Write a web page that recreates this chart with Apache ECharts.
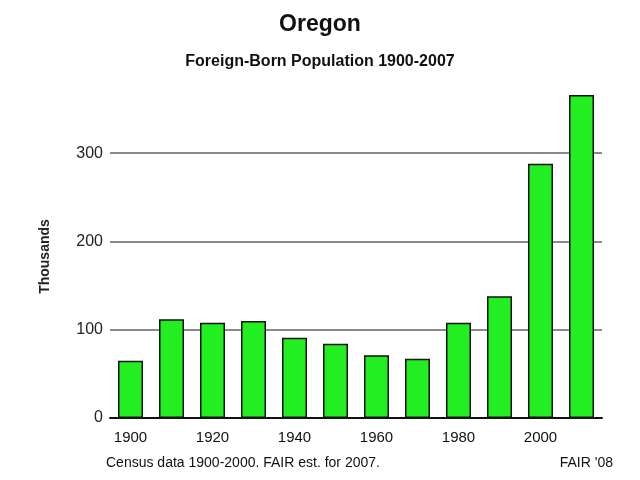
<!DOCTYPE html>
<html>
<head>
<meta charset="utf-8">
<script src="https://cdn.jsdelivr.net/npm/echarts@6/dist/echarts.min.js"></script>
<style>
  html, body { margin: 0; padding: 0; background: #ffffff; }
  #main { width: 640px; height: 480px; }
</style>
</head>
<body>
<div id="main"></div>
<script>
// census years, 2007 is FAIR estimate
const years = ['1900', '1910', '1920', '1930', '1940', '1950', '1960', '1970', '1980', '1990', '2000', '2007']
// foreign-born population, thousands
const foreignBorn = [65, 112, 108, 110, 91, 84, 71, 67, 108, 138, 288, 366]
const yTicks = [0, 100, 200, 300]

const chart = echarts.init(document.getElementById('main'))
chart.setOption({
  animation: false,
  textStyle: { fontFamily: 'Liberation Sans, Arial, sans-serif' },
  title: [
    {
      text: 'Oregon',
      left: 'center',
      top: 8,
      textStyle: { fontSize: 23, fontWeight: 'bold', color: '#111' }
    },
    {
      text: 'Foreign-Born Population 1900-2007',
      left: 'center',
      top: 49,
      textStyle: { fontSize: 16, fontWeight: 'bold', color: '#111' }
    },
    {
      text: 'Census data 1900-2000. FAIR est. for 2007.',
      left: 101,
      top: 451,
      textStyle: { fontSize: 14, fontWeight: 'normal', color: '#111' }
    },
    {
      text: "FAIR '08",
      right: 22,
      top: 451,
      textStyle: { fontSize: 14, fontWeight: 'normal', color: '#111' }
    }
  ],
  grid: { left: 110, right: 38, top: 95, bottom: 62 },
  xAxis: {
    type: 'category',
    data: years,
    axisLine: { lineStyle: { color: '#111', width: 2 } },
    axisTick: { show: false },
    axisLabel: { interval: 1, fontSize: 15, color: '#111', margin: 12 }
  },
  yAxis: {
    type: 'value',
    min: yTicks[0],
    max: 366,
    interval: 100,
    name: 'Thousands',
    nameLocation: 'middle',
    nameGap: 58,
    nameTextStyle: { fontSize: 14, fontWeight: 'bold', color: '#222' },
    axisLine: { show: false },
    axisTick: { show: false },
    axisLabel: {
      showMaxLabel: false,
      fontSize: 16,
      color: '#222',
      margin: 7,
      formatter: v => (yTicks.indexOf(v) >= 0 ? String(v) : '')
    },
    splitLine: { showMaxLine: false, lineStyle: { color: '#8a8a8a', width: 2 } }
  },
  series: [
    {
      type: 'bar',
      data: foreignBorn,
      barWidth: 25,
      itemStyle: { color: '#22ee22', borderColor: '#111', borderWidth: 1.5 }
    }
  ]
})
</script>
</body>
</html>
